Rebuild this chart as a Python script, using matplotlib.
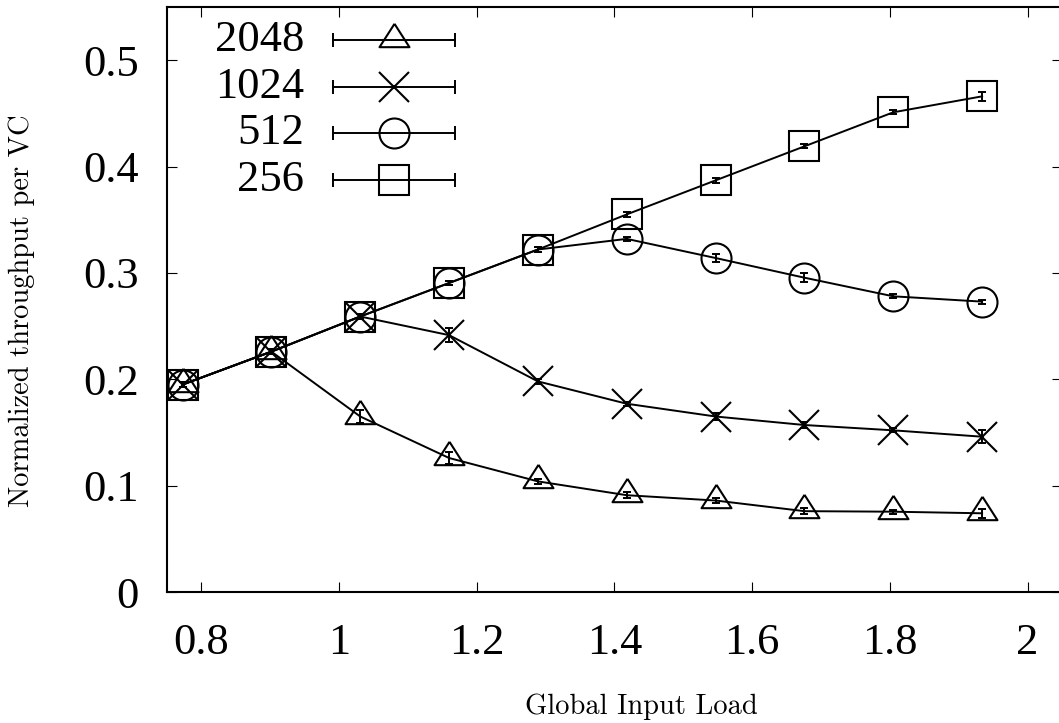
import numpy as np
import matplotlib
matplotlib.use("Agg")
import matplotlib.pyplot as plt
from matplotlib.font_manager import FontProperties

# Global input load (x) and normalized throughput per VC for each buffer size
load = [0.773, 0.902, 1.031, 1.160, 1.289, 1.418, 1.547, 1.676, 1.805, 1.934]

labels = ["2048", "1024", "512", "256"]
thr_2048 = [0.195, 0.226, 0.165, 0.126, 0.104, 0.091, 0.086, 0.076, 0.0755, 0.074]
thr_1024 = [0.195, 0.226, 0.259, 0.2415, 0.198, 0.177, 0.165, 0.157, 0.152, 0.146]
thr_512 = [0.195, 0.226, 0.259, 0.2905, 0.322, 0.332, 0.314, 0.2955, 0.278, 0.273]
thr_256 = [0.195, 0.226, 0.259, 0.2905, 0.322, 0.355, 0.387, 0.419, 0.451, 0.466]

err_2048 = [0.002, 0.002, 0.0065, 0.006, 0.002, 0.003, 0.002, 0.003, 0.002, 0.004]
err_1024 = [0.002, 0.002, 0.002, 0.0065, 0.002, 0.002, 0.003, 0.003, 0.002, 0.006]
err_512 = [0.002, 0.002, 0.002, 0.002, 0.002, 0.002, 0.004, 0.004, 0.002, 0.002]
err_256 = [0.002, 0.002, 0.002, 0.002, 0.002, 0.002, 0.002, 0.002, 0.002, 0.004]

xticks = [0.8, 1.0, 1.2, 1.4, 1.6, 1.8, 2.0]
xticklabels = ["0.8", "1", "1.2", "1.4", "1.6", "1.8", "2"]
yticks = [0, 0.1, 0.2, 0.3, 0.4, 0.5]
yticklabels = ["0", "0.1", "0.2", "0.3", "0.4", "0.5"]

# gnuplot-like triangle: centred on its centroid
tri = [(0, 16.7), (-15, -6.7), (15, -6.7), (0, 16.7)]
markers = [tri, "x", "o", "s"]
sizes = [24, 21.6, 21.6, 21.6]
series = [thr_2048, thr_1024, thr_512, thr_256]
errors = [err_2048, err_1024, err_512, err_256]

plt.rcParams["font.family"] = "serif"
plt.rcParams["font.serif"] = ["Liberation Serif", "DejaVu Serif"]
tick_fp = FontProperties(family="Liberation Serif", size=32)
label_fp = FontProperties(family="cmr10", size=20.5)

fig = plt.figure(figsize=(10.59, 7.23), dpi=100)
W, H = 1059, 723
ax = fig.add_axes([166.7 / W, (H - 592) / H, (1062 - 166.7) / W, (592 - 7) / H])

for i, (y, e) in enumerate(zip(series, errors)):
    ax.errorbar(load, y, yerr=e, color="black", lw=1.4, elinewidth=1.4,
                capsize=3.2, capthick=1.4, zorder=2 + i)
    ax.plot(load, y, linestyle="none", marker=markers[i], ms=sizes[i],
            mfc="none", mec="black", mew=1.5, zorder=2 + i)

ax.set_xlim(0.75, 2.05)
ax.set_ylim(0, 0.55)
ax.set_xticks(xticks)
ax.set_xticklabels(xticklabels)
ax.set_yticks(yticks)
ax.set_yticklabels(yticklabels)
for t in ax.get_xticklabels() + ax.get_yticklabels():
    t.set_fontproperties(tick_fp)
ax.tick_params(direction="in", length=7, width=0.8, top=True, right=True)
ax.tick_params(axis="x", pad=22)
ax.tick_params(axis="y", pad=20)
for s in ax.spines.values():
    s.set_linewidth(1.5)

fig.text(641 / W, 1 - 707 / H, "Global Input Load", ha="center", va="center",
         fontproperties=label_fp)
fig.text(22 / W, 1 - 311 / H, "Normalized throughput per VC", ha="center",
         va="center", rotation=90, fontproperties=label_fp)

# gnuplot style key: label, horizontal line with end caps, marker
key_rows = [0.9436, 0.8638, 0.7841, 0.7043]
for i, lab in enumerate(labels):
    yk = key_rows[i]
    ax.text(0.1538, yk, lab, transform=ax.transAxes, ha="right", va="center",
            fontproperties=tick_fp)
    ax.plot([0.186, 0.322], [yk, yk], color="black", lw=1.4,
            marker="|", ms=10, mew=1.4, transform=ax.transAxes)
    ax.plot([0.254], [yk], linestyle="none", marker=markers[i], ms=sizes[i],
            mfc="none", mec="black", mew=1.5, transform=ax.transAxes)

fig.savefig("out.png", dpi=100)
